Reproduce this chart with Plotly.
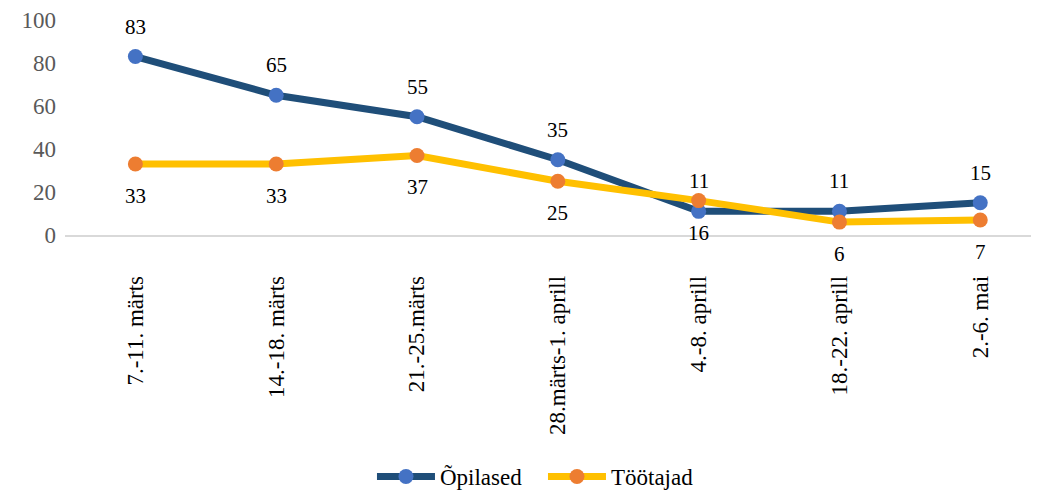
import plotly.graph_objects as go

categories = ["7.-11. märts", "14.-18. märts", "21.-25.märts", "28.märts-1. aprill",
              "4.-8. aprill", "18.-22. aprill", "2.-6. mai"]
opilased = [83, 65, 55, 35, 11, 11, 15]
tootajad = [33, 33, 37, 25, 16, 6, 7]
y_ticks = [0, 20, 40, 60, 80, 100]

FONT = "Liberation Serif, Times New Roman, serif"

fig = go.Figure()
fig.add_trace(go.Scatter(
    x=categories, y=opilased, name="Õpilased", mode="lines+markers",
    line=dict(color="#1F4E79", width=7),
    marker=dict(color="#4472C4", size=15),
))
fig.add_trace(go.Scatter(
    x=categories, y=tootajad, name="Töötajad", mode="lines+markers",
    line=dict(color="#FFC000", width=7),
    marker=dict(color="#ED7D31", size=15),
))

for c, v in zip(categories, opilased):
    fig.add_annotation(x=c, y=v, text=str(v), showarrow=False, yshift=30,
                       font=dict(family=FONT, size=21, color="#000000"))
for c, v in zip(categories, tootajad):
    fig.add_annotation(x=c, y=v, text=str(v), showarrow=False, yshift=-32,
                       font=dict(family=FONT, size=21, color="#000000"))

fig.update_layout(
    width=1039, height=490,
    margin=dict(l=57, r=0, t=12, b=263),
    paper_bgcolor="white", plot_bgcolor="white",
    font=dict(family=FONT, size=21, color="#000000"),
    showlegend=True,
    legend=dict(orientation="h", x=0.3126, xanchor="left", y=-1.126, yanchor="middle",
                font=dict(family=FONT, size=23, color="#000000"),
                itemwidth=58, entrywidth=98, entrywidthmode="pixels"),
)
fig.update_xaxes(
    type="category", range=[-0.5, 6.474],
    showline=True, linecolor="#D9D9D9", linewidth=1.5,
    showgrid=False, ticks="", tickangle=-90,
    tickfont=dict(family=FONT, size=23, color="#000000"),
    ticklabelstandoff=30,
)
fig.update_yaxes(
    range=[0, 100], tickvals=y_ticks, showgrid=False, zeroline=False,
    showline=False, ticks="",
    tickfont=dict(family=FONT, size=23, color="#595959"),
    ticklabelstandoff=8,
)

fig.write_html("out.html")
